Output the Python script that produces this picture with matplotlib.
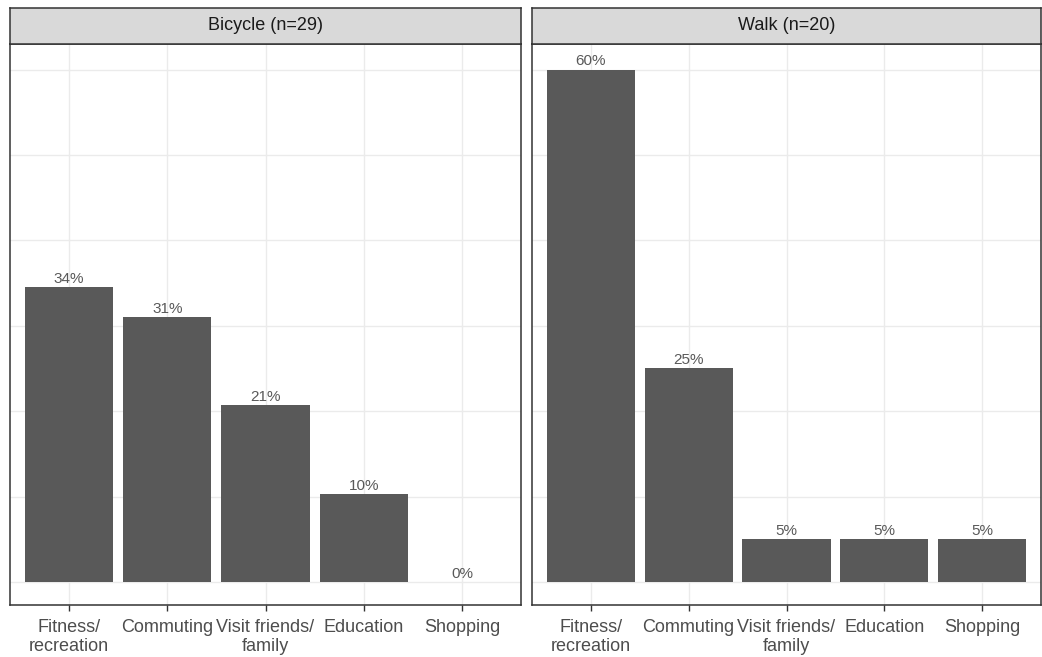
import numpy as np
import matplotlib.pyplot as plt

plt.rcParams['font.family'] = ['Liberation Sans', 'DejaVu Sans']

# ==================== data ====================
categories = ['Fitness/\nrecreation', 'Commuting', 'Visit friends/\nfamily', 'Education', 'Shopping']
panel_titles = ['Bicycle (n=29)', 'Walk (n=20)']
bicycle_share = [0.345, 0.310, 0.207, 0.103, 0.0]
walk_share = [0.60, 0.25, 0.05, 0.05, 0.05]
bicycle_labels = ['34%', '31%', '21%', '10%', '0%']
walk_labels = ['60%', '25%', '5%', '5%', '5%']

W, H = 1042, 657
fig = plt.figure(figsize=(W / 100, H / 100), dpi=100)

# panel geometry in pixels (left, right)
panels_px = [(10, 521), (532, 1041)]
strip_top, strip_bot, panel_bot = 8, 44, 605

bar_col = '#595959'
grid_col = '#EBEBEB'
border_col = '#333333'

x = np.arange(len(categories))
for (l, r), title, vals, labs in zip(panels_px, panel_titles,
                                     [bicycle_share, walk_share],
                                     [bicycle_labels, walk_labels]):
    ax = fig.add_axes([l / W, 1 - panel_bot / H, (r - l) / W, (panel_bot - strip_bot) / H])
    ax.set_xlim(-0.6, len(categories) - 0.4)
    ax.set_ylim(-0.027, 0.63)
    ax.set_yticks(np.arange(0, 0.61, 0.1))
    ax.set_yticklabels([])
    ax.tick_params(axis='y', length=0)
    ax.set_xticks(x)
    ax.set_xticklabels(categories, fontsize=13, color='#4D4D4D', linespacing=1.2)
    ax.tick_params(axis='x', length=4, width=1, color=border_col, pad=6)
    ax.grid(True, color=grid_col, linewidth=1.0)
    ax.set_axisbelow(True)
    for s in ax.spines.values():
        s.set_color(border_col)
        s.set_linewidth(1.1)
    ax.bar(x, vals, width=0.9, color=bar_col, zorder=2)
    for xi, v, t in zip(x, vals, labs):
        ax.annotate(t, (xi, v), xytext=(0, 1), textcoords='offset points',
                    ha='center', va='bottom', fontsize=11, color='#595959')

    # facet strip
    sax = fig.add_axes([l / W, 1 - strip_bot / H, (r - l) / W, (strip_bot - strip_top) / H])
    sax.set_facecolor('#D9D9D9')
    sax.set_xticks([])
    sax.set_yticks([])
    for s in sax.spines.values():
        s.set_color(border_col)
        s.set_linewidth(1.1)
    sax.text(0.5, 0.5, title, ha='center', va='center', fontsize=13,
             color='#1A1A1A', transform=sax.transAxes)

fig.savefig('out.png', dpi=100)
